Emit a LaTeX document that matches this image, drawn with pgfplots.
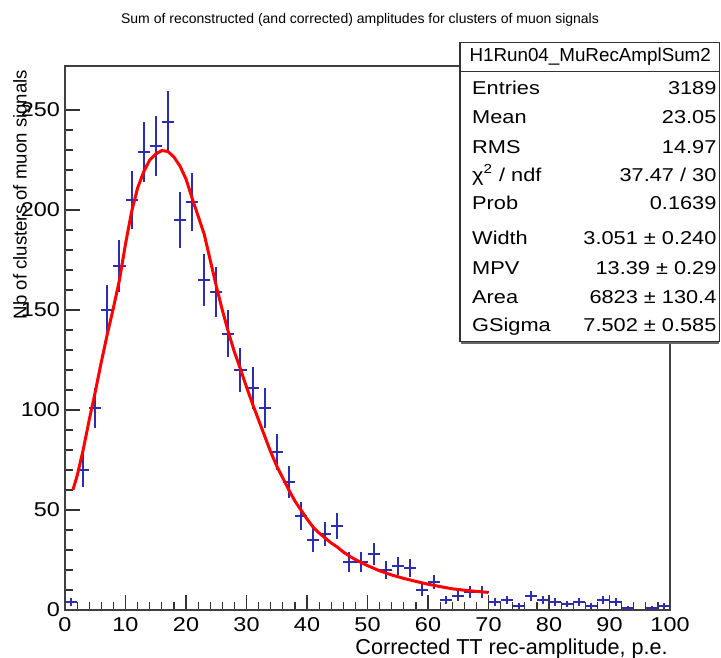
\documentclass[border=0pt]{standalone}
\usepackage{fontspec}
\setmainfont{Liberation Sans}
\newfontfamily\widefont{Liberation Sans}[FakeStretch=1.17]
\usepackage{pgfplots}
\usepackage{pgfplotstable}
\pgfplotsset{compat=1.18}
\definecolor{rootblue}{RGB}{45,45,175}
\definecolor{rootred}{RGB}{255,0,0}

% histogram bins: centre, half width, content, sqrt(content)
\pgfplotstableread{
x  ex y   ey
1  1  4   2.00
3  1  70  8.37
5  1  101 10.05
7  1  150 12.25
9  1  172 13.11
11 1  205 14.32
13 1  229 15.13
15 1  232 15.23
17 1  244 15.62
19 1  195 13.96
21 1  204 14.28
23 1  165 12.85
25 1  159 12.61
27 1  138 11.75
29 1  120 10.95
31 1  111 10.54
33 1  101 10.05
35 1  79  8.89
37 1  64  8.00
39 1  47  6.86
41 1  35  5.92
43 1  38  6.16
45 1  42  6.48
47 1  24  4.90
49 1  24  4.90
51 1  28  5.29
53 1  20  4.47
55 1  22  4.69
57 1  21  4.58
59 1  10  3.16
61 1  14  3.74
63 1  5   2.24
65 1  7   2.65
67 1  9   3.00
69 1  9   3.00
71 1  4   2.00
73 1  5   2.24
75 1  2   1.41
77 1  7   2.65
79 1  5   2.24
81 1  4   2.00
83 1  3   1.73
85 1  4   2.00
87 1  2   1.41
89 1  5   2.24
91 1  4   2.00
93 1  1   1.00
97 1  1   1.00
99 1  2   1.41
}\histo

% Landau (x) Gauss fit
\pgfplotstableread{
x    y
1.3  60
2    67
3    80
4    95
5    109
6    124
7    138
8    151
9    165
10   183
11   199
12   211
13   219
14   225
15   228
16   229.7
17   229.3
18   226.5
19   222
20   215.5
21   206
22   197
23   188
24   175
25   162
26   150
27   139
28   129
29   120.5
30   111.5
31   103
32   95
33   87
34   79
35   72
36   66
37   60
38   54.5
39   50
40   45.5
41   41.5
42   38.5
43   36
44   33.5
45   31.5
46   29
47   27
48   25.2
49   23.7
50   22.2
52   19.6
54   17.5
56   15.8
58   14.3
60   12.9
62   11.7
64   10.6
66   9.9
68   9.3
70   8.8
}\fitcurve

\begin{document}
\begin{tikzpicture}
\useasboundingbox (-32.5pt,-23.5pt) rectangle (328pt,305pt);
\begin{axis}[
    scale only axis,
    width=302.5pt, height=272pt,
    xmin=0, xmax=100, ymin=0, ymax=272,
    xtick={0,10,...,100},
    ytick={0,50,...,250},
    minor x tick num=4,
    minor y tick num=4,
    tick pos=left,
    tick align=inside,
    major tick length=7.5pt,
    minor tick length=4pt,
    axis line style={black!75, line width=0.6pt},
    every tick/.style={black!80, line width=0.6pt},
    ticklabel style={font=\widefont\fontsize{10}{12}\selectfont},
    yticklabel style={xshift=1pt},
    /pgf/number format/assume math mode=true,
]
\addplot[draw=none, mark=none,
    error bars/.cd, x dir=both, x explicit, y dir=both, y explicit,
    error mark=none, error bar style={draw=rootblue, line width=1pt}]
    table[x=x, y=y, x error=ex, y error=ey] {\histo};
\addplot[rootred, line width=1.5pt, mark=none] table[x=x, y=y] {\fitcurve};
\end{axis}

% title and axis titles
\node[anchor=base, font=\fontsize{7}{8}\selectfont] at (147.5pt,293pt)
    {Sum of reconstructed (and corrected) amplitudes for clusters of muon signals};
\node[anchor=base east, inner sep=0pt, font=\fontsize{10.8}{12}\selectfont] at (301.5pt,-22pt)
    {Corrected TT rec-amplitude, p.e.};
\node[rotate=90, anchor=base east, font=\fontsize{9.3}{11}\selectfont] at (-19.2pt,273.5pt)
    {Nb of clusters of muon signals};

% stats box
\draw[black!60, line width=1.4pt] (198.2pt,133.6pt) -- (327.2pt,133.6pt);
\draw[black!80, line width=0.6pt, fill=white] (197.5pt,134.4pt) rectangle (327.2pt,283.7pt);
\draw[black!80, line width=0.6pt] (197.5pt,269.2pt) -- (327.2pt,269.2pt);
\node[font=\fontsize{9.4}{11}\selectfont] at (262.6pt,276.7pt) {H1Run04\_MuRecAmplSum2};
\begin{scope}[every node/.style={font=\widefont\fontsize{9.3}{11}\selectfont, inner sep=0pt}]
\foreach \yy/\lab/\val in {
    261.0/Entries/3189,
    246.5/Mean/23.05,
    231.7/RMS/14.97,
    217.5/{χ\textsuperscript{2} / ndf}/{37.47 / 30},
    203.5/Prob/0.1639,
    186.2/Width/{3.051 ± 0.240},
    171.2/MPV/{13.39 ± 0.29},
    156.7/Area/{6823 ± 130.4},
    142.5/GSigma/{7.502 ± 0.585}} {
  \node[anchor=base west] at (203.4pt,\yy pt - 3.3pt) {\lab};
  \node[anchor=base east] at (325.9pt,\yy pt - 3.3pt) {\val};
}
\end{scope}
\end{tikzpicture}
\end{document}
